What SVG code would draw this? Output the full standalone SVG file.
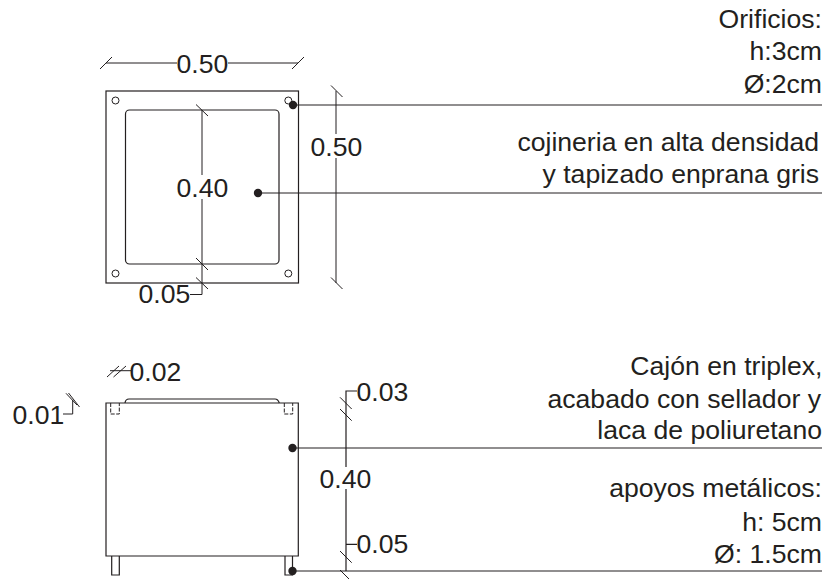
<svg xmlns="http://www.w3.org/2000/svg" width="830" height="579" viewBox="0 0 830 579">
<style>
.s{fill:none;stroke:#231f20;stroke-width:1}
.g{fill:none;stroke:#231f20;stroke-width:1.200}
.d{fill:#231f20}
.hole{fill:#fff;stroke:#231f20;stroke-width:1}
text{font-family:"Liberation Sans",Arial,sans-serif;fill:#231f20}
.dim{font-size:26.600px}
.note{font-size:26.600px;text-anchor:end}
</style>
<rect width="830" height="579" fill="#fff"/>
<g id="top-view">
<rect class="g" x="106" y="91" width="192.500" height="192"/>
<rect class="g" x="125.500" y="110" width="153.500" height="154" rx="4"/>
<circle class="hole" cx="115.500" cy="100.500" r="3.500"/>
<circle class="hole" cx="288.300" cy="100.500" r="3.500"/>
<circle class="hole" cx="115.500" cy="273.500" r="3.500"/>
<circle class="hole" cx="288.300" cy="273.500" r="3.500"/>
</g>
<g id="side-view">
<path class="g" d="M106 556V403H298.300V556Z"/>
<path class="g" d="M125 403Q125.500 399 129 399H275Q278 399 279.300 403"/>
<path class="s" stroke-dasharray="4 1.500" d="M110.700 403V414H119.300V403"/>
<path class="s" stroke-dasharray="4 1.500" d="M284.300 403V414H292.700V403"/>
<path class="g" d="M111.700 556V575H119.300V556"/>
<path class="g" d="M285 556V575H292.500V556"/>
</g>
<g id="connectors">
<path class="s" d="M100 69L112 57M292 69L304 57M106 63H177M228 63H298"/>
<path class="s" d="M331 85.500L342.500 97M331 277.500L342.500 289M336 91V134M336 158V283"/>
<path class="s" d="M196 104.500L208 116M196 258L208 270M196 277.500L208 289M202 110V175M202 199V294.500H190"/>
<path class="g" d="M293 105H822"/>
<path class="s" d="M258 193H822"/>
<path class="g" d="M293 448H822"/>
<path class="g" d="M292.500 571H822"/>
<circle class="d" cx="293" cy="105" r="4.200"/>
<circle class="d" cx="258" cy="193" r="4.200"/>
<circle class="d" cx="292.500" cy="448" r="4.200"/>
<circle class="d" cx="292.500" cy="571" r="4.200"/>
<path class="s" d="M107 377L119 366M113.500 377L126 366M110 370.700H131"/>
<path class="s" d="M63 414H72.700V400M66 393.300L77 405M68.500 393L79.500 407"/>
<path class="g" d="M357 391H346V467M346 489V571M346 544.300H357"/>
<path class="s" d="M340 397.300L351.700 409M340 409L351.700 420.700M340 551L351.700 562.700M340 570L352 582"/>
</g>
<g id="labels">
<text class="dim" x="176.500" y="73">0.50</text>
<text class="dim" x="310.500" y="156">0.50</text>
<text class="dim" x="176.500" y="197">0.40</text>
<text class="dim" x="138.500" y="303">0.05</text>
<text class="dim" x="129.500" y="381">0.02</text>
<text class="dim" x="12.500" y="424">0.01</text>
<text class="dim" x="356.500" y="401">0.03</text>
<text class="dim" x="319.500" y="488">0.40</text>
<text class="dim" x="356.500" y="553">0.05</text>
<text class="note" x="822" y="27.500">Orificios:</text>
<text class="note" x="822" y="60">h:3cm</text>
<text class="note" x="822" y="93">Ø:2cm</text>
<text class="note" x="819" y="150.500">cojineria en alta densidad</text>
<text class="note" x="819" y="182.500">y tapizado enprana gris</text>
<text class="note" x="822.500" y="375">Cajón en triplex,</text>
<text class="note" x="821" y="407.500">acabado con sellador y</text>
<text class="note" x="822" y="439">laca de poliuretano</text>
<text class="note" x="822" y="497">apoyos metálicos:</text>
<text class="note" x="822" y="530.500">h: 5cm</text>
<text class="note" x="822" y="563">Ø: 1.5cm</text>
</g>
</svg>
